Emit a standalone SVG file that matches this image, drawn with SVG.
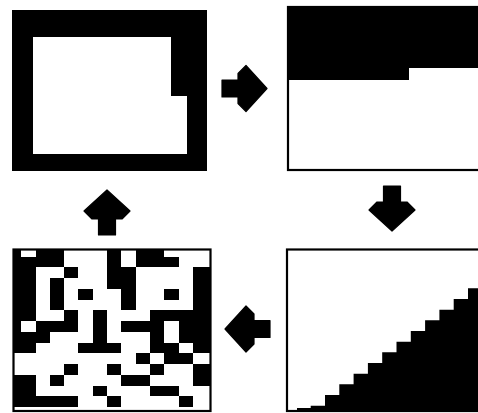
<svg xmlns="http://www.w3.org/2000/svg" width="478" height="413" viewBox="0 0 478 413">
<defs>
<style>
.blk{fill:#000}
.wht{fill:#fff}
.frame{fill:none;stroke:#000;stroke-width:2.2}
.arrow{fill:#000;stroke:#000;stroke-width:1.2;stroke-linejoin:round}
</style>
<path id="arr" d="M0,0 L-21,-23 L-29,-15 L-29,-8.5 L-45,-8.5 L-45,8.5 L-29,8.5 L-29,15 L-21,23 Z"/>
</defs>
<rect width="478" height="413" fill="#fff"/>

<g id="panel-room">
<rect class="blk" x="12" y="10" width="195" height="161"/>
<polygon class="wht" points="33,37 171,37 171,96 187,96 187,154 33,154"/>
</g>

<g id="panel-bands">
<rect class="wht" x="288" y="7" width="200" height="163"/>
<polygon class="blk" points="288,7 478,7 478,68 409,68 409,80 288,80"/>
<rect class="frame" x="288" y="7" width="200" height="163"/>
</g>

<g id="panel-stairs">
<rect class="wht" x="287" y="249.5" width="200" height="161.5"/>
<polygon class="blk" points="297,411 297,408 310.7,408 310.7,405.7 325,405.7 325,395 339.3,395 339.3,384.3 353.6,384.3 353.6,373.7 367.9,373.7 367.9,363 382.2,363 382.2,352.3 396.5,352.3 396.5,341.7 410.8,341.7 410.8,331 425.1,331 425.1,320.3 439.4,320.3 439.4,309.7 453.7,309.7 453.7,299 468,299 468,288.3 478,288.3 478,411"/>
<rect class="frame" x="287" y="249.5" width="200" height="161.5"/>
</g>

<g id="panel-maze">
<rect class="wht" x="13" y="249" width="198" height="162"/>
<g class="blk" shape-rendering="crispEdges">
<rect x="13" y="249" width="8.2" height="7.5"/>
<rect x="35.5" y="249" width="28.6" height="7.5"/>
<rect x="107" y="249" width="14.3" height="7.5"/>
<rect x="135.6" y="249" width="28.6" height="7.5"/>

<rect x="13" y="256.5" width="51.1" height="10.75"/>
<rect x="107" y="256.5" width="14.3" height="10.75"/>
<rect x="135.6" y="256.5" width="42.9" height="10.75"/>

<rect x="13" y="267.25" width="22.5" height="10.75"/>
<rect x="64.1" y="267.25" width="14.3" height="10.75"/>
<rect x="107" y="267.25" width="28.6" height="10.75"/>
<rect x="192.8" y="267.25" width="18.2" height="10.75"/>

<rect x="13" y="278" width="22.5" height="10.75"/>
<rect x="49.8" y="278" width="14.3" height="10.75"/>
<rect x="107" y="278" width="28.6" height="10.75"/>
<rect x="192.8" y="278" width="18.2" height="10.75"/>

<rect x="13" y="288.75" width="22.5" height="10.75"/>
<rect x="49.8" y="288.75" width="14.3" height="10.75"/>
<rect x="78.4" y="288.75" width="14.3" height="10.75"/>
<rect x="121.3" y="288.75" width="14.3" height="10.75"/>
<rect x="164.2" y="288.75" width="14.3" height="10.75"/>
<rect x="192.8" y="288.75" width="18.2" height="10.75"/>

<rect x="13" y="299.5" width="22.5" height="10.75"/>
<rect x="49.8" y="299.5" width="14.3" height="10.75"/>
<rect x="121.3" y="299.5" width="14.3" height="10.75"/>
<rect x="192.8" y="299.5" width="18.2" height="10.75"/>

<rect x="13" y="310.25" width="22.5" height="10.75"/>
<rect x="64.1" y="310.25" width="14.3" height="10.75"/>
<rect x="92.7" y="310.25" width="14.3" height="10.75"/>
<rect x="149.9" y="310.25" width="61.1" height="10.75"/>

<rect x="13" y="321" width="8.2" height="10.75"/>
<rect x="35.5" y="321" width="42.9" height="10.75"/>
<rect x="92.7" y="321" width="14.3" height="10.75"/>
<rect x="121.3" y="321" width="42.9" height="10.75"/>
<rect x="178.5" y="321" width="32.5" height="10.75"/>

<rect x="13" y="331.75" width="36.8" height="10.75"/>
<rect x="92.7" y="331.75" width="14.3" height="10.75"/>
<rect x="149.9" y="331.75" width="14.3" height="10.75"/>
<rect x="178.5" y="331.75" width="32.5" height="10.75"/>

<rect x="13" y="342.5" width="22.5" height="10.75"/>
<rect x="78.4" y="342.5" width="42.9" height="10.75"/>
<rect x="149.9" y="342.5" width="28.6" height="10.75"/>
<rect x="192.8" y="342.5" width="18.2" height="10.75"/>

<rect x="135.6" y="353.25" width="14.3" height="10.75"/>
<rect x="164.2" y="353.25" width="28.6" height="10.75"/>

<rect x="64.1" y="364" width="14.3" height="10.75"/>
<rect x="107" y="364" width="14.3" height="10.75"/>
<rect x="149.9" y="364" width="14.3" height="10.75"/>
<rect x="192.8" y="364" width="18.2" height="10.75"/>

<rect x="13" y="374.75" width="22.5" height="10.75"/>
<rect x="49.8" y="374.75" width="14.3" height="10.75"/>
<rect x="121.3" y="374.75" width="28.6" height="10.75"/>
<rect x="192.8" y="374.75" width="18.2" height="10.75"/>

<rect x="13" y="385.5" width="22.5" height="10.75"/>
<rect x="92.7" y="385.5" width="14.3" height="10.75"/>
<rect x="149.9" y="385.5" width="28.6" height="10.75"/>

<rect x="13" y="396.25" width="65.4" height="10.75"/>
<rect x="107" y="396.25" width="14.3" height="10.75"/>
<rect x="178.5" y="396.25" width="14.3" height="10.75"/>
</g>
<rect class="frame" x="13.5" y="249.5" width="197" height="161.5" stroke-width="2.5"/>
</g>

<g id="connectors">
<use href="#arr" class="arrow" transform="translate(267,88.5)"/>
<use href="#arr" class="arrow" transform="translate(392,231) rotate(90)"/>
<use href="#arr" class="arrow" transform="translate(225,329) rotate(180)"/>
<use href="#arr" class="arrow" transform="translate(107,190) rotate(-90)"/>
</g>
</svg>
